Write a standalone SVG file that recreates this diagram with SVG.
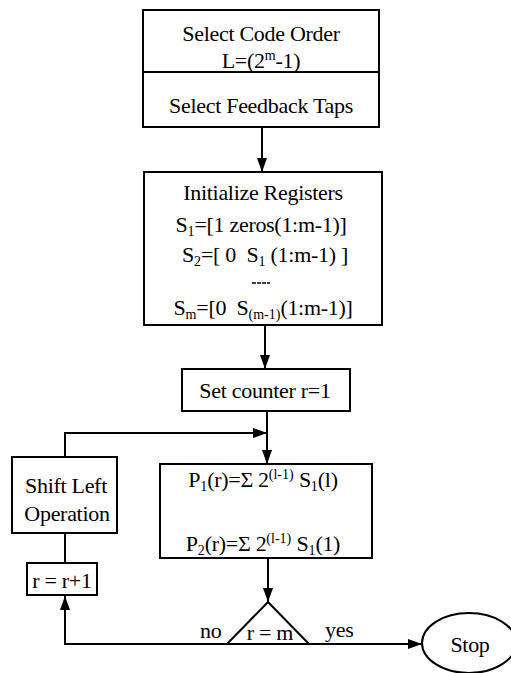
<svg xmlns="http://www.w3.org/2000/svg" width="511" height="673" viewBox="0 0 511 673">
<style>
  .box { fill: #fff; stroke: #000; stroke-width: 2; }
  .ln { fill: none; stroke: #000; stroke-width: 2; }
  text { font-family: "Liberation Serif", "Times New Roman", serif; font-size: 22px; letter-spacing: -0.3px; fill: #000; }
  .c { text-anchor: middle; }
  .s { font-size: 14px; letter-spacing: 0; }
</style>
<defs>
  <marker id="ah" viewBox="0 0 14 10" refX="14" refY="5" markerWidth="14" markerHeight="10" markerUnits="userSpaceOnUse" orient="auto">
    <path d="M0,0 L14,5 L0,10 Z" fill="#000"/>
  </marker>
</defs>
<rect width="511" height="673" fill="#fff"/>

<g id="connectors">
  <line class="ln" x1="262" y1="127" x2="262" y2="172" marker-end="url(#ah)"/>
  <line class="ln" x1="265" y1="325" x2="265" y2="369" marker-end="url(#ah)"/>
  <line class="ln" x1="267" y1="411" x2="267" y2="464" marker-end="url(#ah)"/>
  <polyline class="ln" points="65,457 65,433 267,433" marker-end="url(#ah)"/>
  <line class="ln" x1="65" y1="533" x2="65" y2="563"/>
  <line class="ln" x1="268" y1="558" x2="268" y2="602" marker-end="url(#ah)"/>
  <polyline class="ln" points="227,644 65,644 65,596" marker-end="url(#ah)"/>
  <line class="ln" x1="309" y1="644" x2="422" y2="644" marker-end="url(#ah)"/>
</g>

<g id="node-code-order">
  <rect class="box" x="143" y="10" width="236" height="117"/>
  <line class="ln" x1="143" y1="72" x2="379" y2="72"/>
  <text class="c" x="261" y="41">Select Code Order</text>
  <text class="c" x="261" y="68">L=(2<tspan class="s" dy="-8">m</tspan><tspan dy="8">-1)</tspan></text>
  <text class="c" x="261" y="113">Select Feedback Taps</text>
</g>

<g id="node-init">
  <rect class="box" x="144" y="172" width="238" height="153"/>
  <text class="c" x="263" y="200">Initialize Registers</text>
  <text class="c" x="261" y="232">S<tspan class="s" dy="4">1</tspan><tspan dy="-4">=[1 zeros(1:m-1)]</tspan></text>
  <text class="c" x="265" y="262">S<tspan class="s" dy="4">2</tspan><tspan dy="-4">=[ 0&#160;&#160;S</tspan><tspan class="s" dy="4">1</tspan><tspan dy="-4"> (1:m-1) ]</tspan></text>
  <line x1="252" y1="283" x2="270" y2="283" stroke="#000" stroke-width="1.6" stroke-dasharray="4,1"/>
  <text class="c" x="263" y="315">S<tspan class="s" dy="4">m</tspan><tspan dy="-4">=[0&#160;&#160;S</tspan><tspan class="s" dy="4">(m-1)</tspan><tspan dy="-4">(1:m-1)]</tspan></text>
</g>

<g id="node-counter">
  <rect class="box" x="182" y="369" width="168" height="42"/>
  <text class="c" x="265" y="398">Set counter r=1</text>
</g>

<g id="node-p">
  <rect class="box" x="160" y="464" width="212" height="94"/>
  <text class="c" x="263" y="487">P<tspan class="s" dy="4">1</tspan><tspan dy="-4">(r)=Σ 2</tspan><tspan class="s" dy="-8">(l-1)</tspan><tspan dy="8"> S</tspan><tspan class="s" dy="4">1</tspan><tspan dy="-4">(l)</tspan></text>
  <text class="c" x="263" y="551">P<tspan class="s" dy="4">2</tspan><tspan dy="-4">(r)=Σ 2</tspan><tspan class="s" dy="-8">(l-1)</tspan><tspan dy="8"> S</tspan><tspan class="s" dy="4">1</tspan><tspan dy="-4">(1)</tspan></text>
</g>

<g id="node-shift">
  <rect class="box" x="12" y="457" width="105" height="76"/>
  <text class="c" x="66" y="493">Shift Left</text>
  <text class="c" x="67" y="521">Operation</text>
</g>

<g id="node-incr">
  <rect class="box" x="27" y="563" width="70" height="32"/>
  <text class="c" x="62" y="588">r = r+1</text>
</g>

<g id="node-decision">
  <polygon class="box" points="268,602 309,644 227,644"/>
  <text class="c" x="270" y="640">r = m</text>
  <text x="200" y="638">no</text>
  <text x="325" y="637">yes</text>
</g>

<g id="node-stop">
  <ellipse class="box" cx="469" cy="643" rx="47" ry="30"/>
  <text class="c" x="470" y="652">Stop</text>
</g>
</svg>
